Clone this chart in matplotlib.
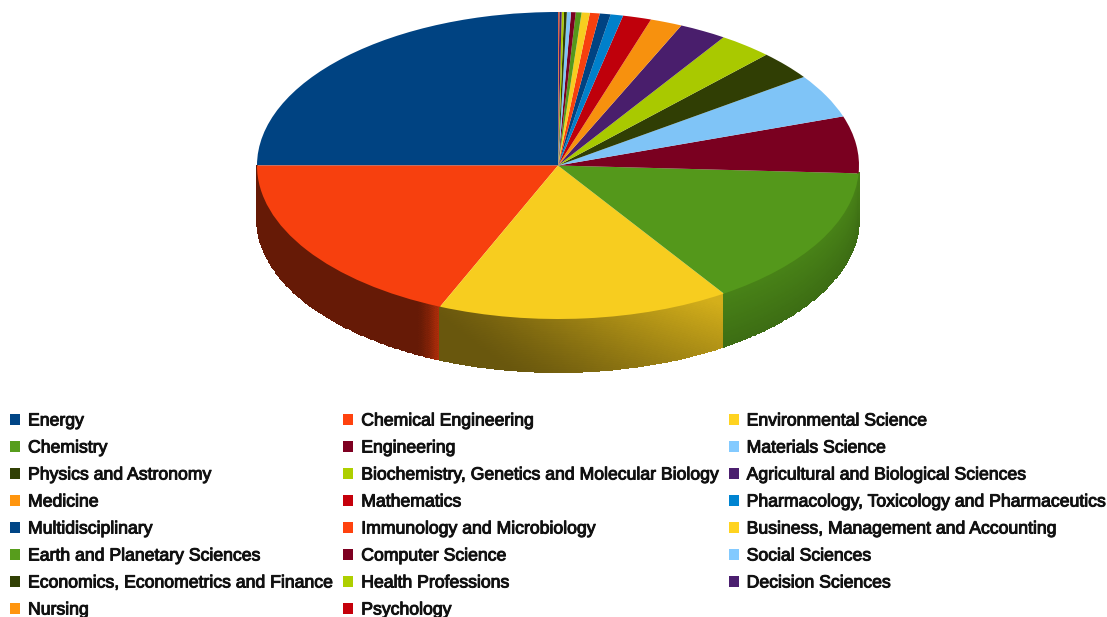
import numpy as np
import matplotlib
matplotlib.use("Agg")
import matplotlib.pyplot as plt
import matplotlib.patheffects as pe
from matplotlib.colors import to_rgb
from matplotlib.patches import Patch

categories = [
    "Energy", "Chemical Engineering", "Environmental Science", "Chemistry",
    "Engineering", "Materials Science", "Physics and Astronomy",
    "Biochemistry, Genetics and Molecular Biology",
    "Agricultural and Biological Sciences", "Medicine", "Mathematics",
    "Pharmacology, Toxicology and Pharmaceutics", "Multidisciplinary",
    "Immunology and Microbiology", "Business, Management and Accounting",
    "Earth and Planetary Sciences", "Computer Science", "Social Sciences",
    "Economics, Econometrics and Finance", "Health Professions",
    "Decision Sciences", "Nursing", "Psychology",
]
shares = [25.0, 18.6, 15.7, 14.9, 6.0, 4.6, 3.05, 2.9, 2.55, 1.72, 1.53, 0.67,
          0.58, 0.53, 0.44, 0.31, 0.25, 0.22, 0.15, 0.125, 0.125, 0.04, 0.03]
palette = ["#004586", "#ff420e", "#ffd320", "#579d1c", "#7e0021", "#83caff",
           "#314004", "#aecf00", "#4b1f6f", "#ff950e", "#c5000b", "#0084d1"]

W, H = 1107, 617
CX, CY, RX, RY = 558.0, 165.5, 301.0, 153.5   # top face ellipse, pixels
DEPTH = 53.0 / RY                              # wall height in face radii
FACE_SHADE = 0.97

colors = [palette[i % len(palette)] for i in range(len(categories))]

plt.rcParams["font.family"] = ["Liberation Sans"]
fig = plt.figure(figsize=(W / 100, H / 100), dpi=100, facecolor="white")
ax = fig.add_axes([0, 0, 1, 1])

face_colors = [tuple(c * FACE_SHADE for c in to_rgb(col)) for col in colors]
wedges, _ = ax.pie(shares, colors=face_colors, startangle=90, counterclock=True,
                   radius=1.0, wedgeprops={"linewidth": 0, "zorder": 3})

ax.set_aspect("auto")
ax.set_xlim((0 - CX) / RX, (W - CX) / RX)
ax.set_ylim((CY - H) / RY, CY / RY)
ax.axis("off")


def wall_shade(index, xn, t, theta_frac):
    """Lighting of a slice's rim; t is 0 at the top edge and 1 at the bottom."""
    if index == 1:
        # mostly flat dark red with a bright strip towards the slice's end
        return 0.40 + 0.30 * np.clip((theta_frac - 0.93) / 0.07, 0, 1) ** 1.5
    if index == 2:
        # diagonal sweep, bright at upper right and dark at lower left
        return 0.41 + 0.42 * np.clip((xn + 0.40) / 0.95 - 0.30 * t + 0.06, 0, 1) ** 1.3
    if index == 3:
        return 0.83 - 0.13 * t
    return 0.6 + 0 * xn


# rim of the disc, one curved mesh per slice facing the viewer
fractions = np.cumsum([0] + shares) / sum(shares)
for i, col in enumerate(colors):
    a0 = np.pi / 2 + 2 * np.pi * fractions[i]
    a1 = np.pi / 2 + 2 * np.pi * fractions[i + 1]
    lo, hi = max(a0, np.pi), min(a1, 2 * np.pi)
    if hi - lo < 0.1:   # slivers at the silhouette edge do not show
        continue
    th = np.linspace(lo, hi, 140)
    tt = np.linspace(0, 1, 30)
    T, Z = np.meshgrid(th, tt)
    X = np.cos(T)
    Y = np.sin(T) - Z * DEPTH
    Tc, Zc = 0.5 * (T[:-1, :-1] + T[1:, 1:]), 0.5 * (Z[:-1, :-1] + Z[1:, 1:])
    shade = wall_shade(i, np.cos(Tc), Zc, (Tc - lo) / (hi - lo))
    rgb = np.dstack([np.clip(shade * c, 0, 1) for c in to_rgb(col)])
    ax.pcolormesh(X, Y, rgb, shading="flat", zorder=2,
                  antialiased=False, edgecolors="face", linewidth=0.3)

# legend filled row by row, three columns across the page
ncol = 3
order = [i for c in range(ncol) for i in range(c, len(categories), ncol)]
handles = [Patch(facecolor=colors[i], edgecolor="none", label=categories[i]) for i in order]
fs = 12.7
px = 0.72 / fs   # one pixel, in legend font-size units
leg = fig.legend(handles=handles, ncol=ncol, loc="upper left",
                 bbox_to_anchor=(10 / W, 1 - 412.5 / H), bbox_transform=fig.transFigure,
                 frameon=False, borderaxespad=0, borderpad=0,
                 handlelength=10 * px, handleheight=10 * px,
                 handletextpad=8 * px, columnspacing=10 * px,
                 labelspacing=10 * px,
                 prop={"family": "Liberation Sans", "size": fs})
for txt in leg.get_texts():
    txt.set_color("#111111")
    txt.set_path_effects([pe.withStroke(linewidth=0.7, foreground="#111111")])

fig.savefig("out.png", dpi=100, facecolor="white")
